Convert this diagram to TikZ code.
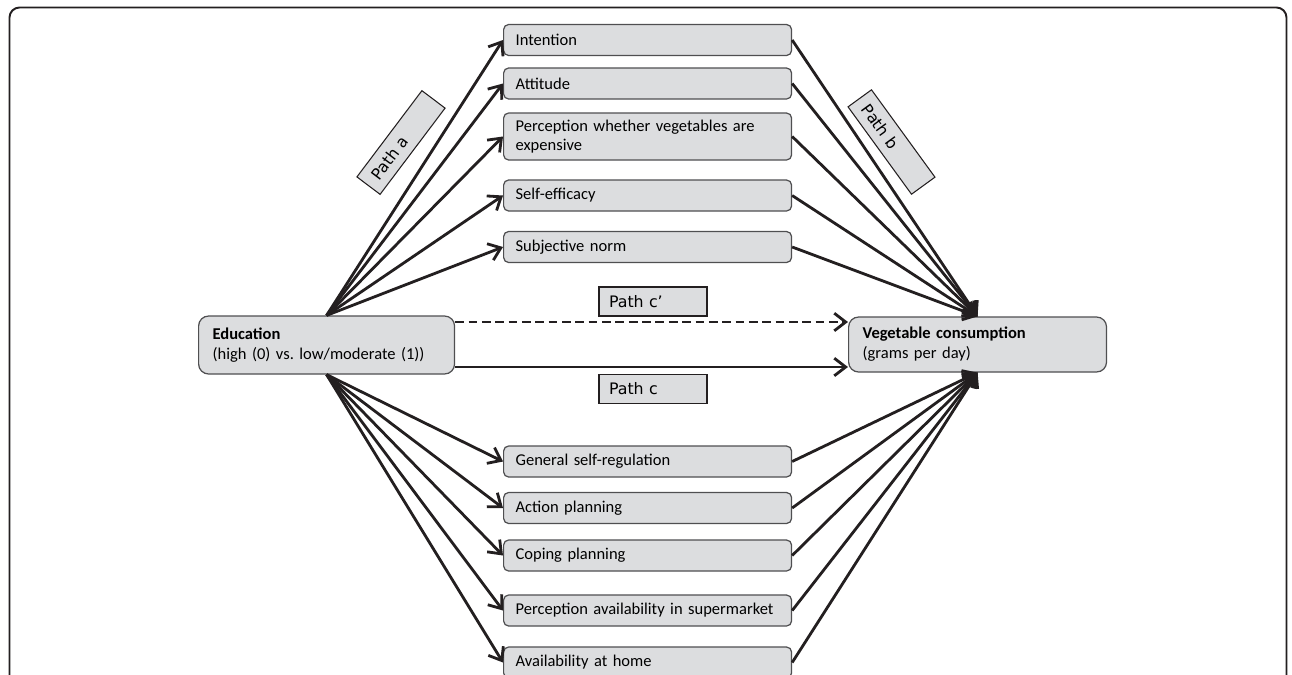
\documentclass[tikz,border=0pt]{standalone}
\usepackage{fontspec}
\setmainfont{Carlito}
\newfontfamily\pathfont{DejaVu Sans}
\usetikzlibrary{arrows.meta}

\definecolor{boxgray}{HTML}{DCDDDF}
\definecolor{inkblack}{HTML}{231F20}
\definecolor{edgegray}{HTML}{4F4F51}

\tikzset{
  medbox/.style={draw=edgegray, line width=0.7pt, fill=boxgray, rounded corners=0.1cm,
    anchor=west, text width=5.28cm, inner xsep=0.24cm, inner ysep=0pt,
    minimum height=0.62cm, align=left, font=\fontsize{9.4}{11.2}\selectfont},
  endbox/.style={draw=edgegray, line width=0.7pt, fill=boxgray, rounded corners=0.2cm,
    anchor=west, inner xsep=0.28cm, inner ysep=0pt, align=left,
    font=\fontsize{9.4}{11.4}\selectfont},
  pathlbl/.style={draw=inkblack, line width=0.6pt, fill=boxgray, text width=1.76cm,
    inner xsep=0.2cm, inner ysep=0pt, minimum height=0.58cm, align=left,
    font=\pathfont\fontsize{9}{11}\selectfont},
  patharrow/.style={draw=inkblack, line width=1.6pt,
    -{Straight Barb[length=6.5pt,width=10pt]}},
}

\begin{document}
\begin{tikzpicture}[x=0.02cm,y=-0.02cm]
    \useasboundingbox (0,0) rectangle (1292,674);
    \clip (0,0) rectangle (1292,674);

    \draw[inkblack, line width=1.1pt, rounded corners=0.2cm] (9.5,700) -- (9.5,7.5) -- (1286.5,7.5) -- (1286.5,700);

    \node[endbox, text width=4.56cm, minimum height=1.16cm](edu) at (198,345){\textbf{Education}\\(high (0) vs.\ low/moderate (1))};
    \node[endbox, text width=4.6cm, minimum height=1.1cm](veg) at (848,344.5){\textbf{Vegetable consumption}\\(grams per day)};

    \node[medbox](intent) at (503,40){Intention};
    \node[medbox](attit) at (503,83.5){Attitude};
    \node[medbox, minimum height=0.94cm](expens) at (503,136.5){Perception whether vegetables are\\expensive};
    \node[medbox](selfeff) at (503,195.5){Self-efficacy};
    \node[medbox](subnorm) at (503,247){Subjective norm};

    \node[medbox](selfreg) at (503,461.5){General self-regulation};
    \node[medbox](action) at (503,508){Action planning};
    \node[medbox](coping) at (503,555.5){Coping planning};
    \node[medbox](market) at (503,610.5){Perception availability in supermarket};
    \node[medbox](home) at (503,662.5){Availability at home};

    \node[pathlbl, rotate=53](patha) at (401,142.5){Path a};
    \node[pathlbl, rotate=-54](pathb) at (891.5,142){Path b};
    \node[pathlbl](pathcp) at (653,301.5){Path c\textquoteright};
    \node[pathlbl](pathc) at (653,389){Path c};

    \coordinate(cpline) at (600,322);
    \coordinate(cline) at (600,367);

    \foreach \m in {intent,attit,expens,selfeff,subnorm}{
      \draw[patharrow] (edu.north) -- (\m.west);
      \draw[patharrow] (\m.east) -- (veg.north);
    }
    \foreach \m in {selfreg,action,coping,market,home}{
      \draw[patharrow] (edu.south) -- (\m.west);
      \draw[patharrow] (\m.east) -- (veg.south);
    }

    \draw[patharrow, dash pattern=on 5pt off 2.6pt] (edu.east |- cpline) -- (veg.west |- cpline);
    \draw[patharrow] (edu.east |- cline) -- (veg.west |- cline);

  \end{tikzpicture}
\end{document}
